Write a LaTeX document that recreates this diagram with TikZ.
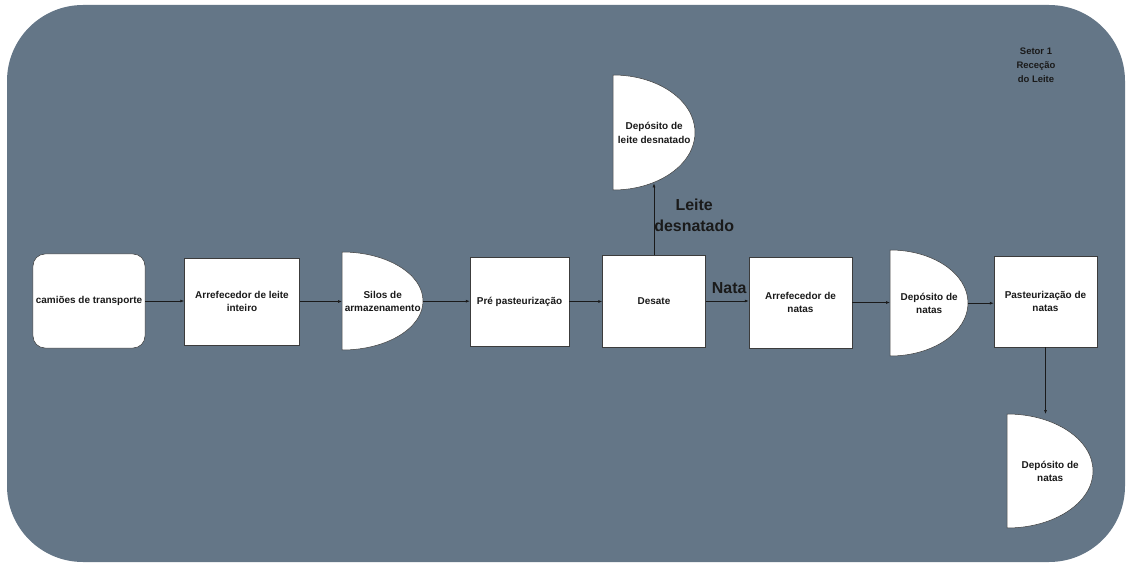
\documentclass[tikz,border=0pt]{standalone}
\usepackage{fontspec}
\setmainfont{Liberation Sans}
\usepackage{tikz}
\usetikzlibrary{arrows.meta, positioning}

\definecolor{setorbg}{HTML}{647687}
\definecolor{boxline}{HTML}{3C3C3C}
\definecolor{txt}{HTML}{1A1A1A}

\begin{document}
\begin{tikzpicture}[
    x=1bp, y=-1bp,
    box/.style={draw=boxline, line width=0.5bp, fill=white, text=txt, align=center,
        inner sep=1bp, font=\fontsize{10}{13.5}\selectfont\bfseries},
    dtext/.style={text=txt, align=center, inner sep=1bp, anchor=north west,
        font=\fontsize{10}{13.5}\selectfont\bfseries},
    dshape/.style={draw=boxline, line width=0.5bp, fill=white},
    flow/.style={-{Latex[length=4bp,width=3bp]}, line width=0.6bp, draw=txt},
    lbl/.style={text=txt, align=center, inner sep=0pt,
        font=\fontsize{16}{21}\selectfont\bfseries}
]

    % page and sector background
    \useasboundingbox (0,0) rectangle (1126,563);
    \fill[white] (0,0) rectangle (1126,563);
    \fill[setorbg, rounded corners=76bp] (7,5) rectangle (1125,562);

    \node[text=txt, align=center, inner sep=0pt,
          font=\fontsize{9.5}{14}\selectfont\bfseries] (setor) at (1036,65)
          {Setor 1\\Receção\\do Leite};

    % main line
    \node[box, rounded corners=12bp, minimum width=112bp, minimum height=94bp] (camioes)
        at (89,301) {camiões de transporte};
    \node[box, minimum width=115bp, minimum height=87bp] (arrleite)
        at (242,301.5) {Arrefecedor de leite\\inteiro};

    \fill[dshape] (342,252) arc[start angle=90, end angle=-90, x radius=81bp, y radius=49bp] -- cycle;
    \node[dtext, minimum width=81bp, minimum height=98bp] (silos)
        at (342,252) {Silos de\\armazenamento};

    \node[box, minimum width=99bp, minimum height=89bp] (prepast)
        at (519.5,301.5) {Pré pasteurização};
    \node[box, minimum width=103bp, minimum height=92bp] (desate)
        at (654,301) {Desate};
    \node[box, minimum width=103bp, minimum height=91bp] (arrnatas)
        at (800.5,302.5) {Arrefecedor de\\natas};

    \fill[dshape] (890,250) arc[start angle=90, end angle=-90, x radius=78bp, y radius=53bp] -- cycle;
    \node[dtext, minimum width=78bp, minimum height=106bp] (depnatas)
        at (890,250) {Depósito de\\natas};

    \node[box, minimum width=103bp, minimum height=91bp] (pastnatas)
        at (1045.5,301.5) {Pasteurização de\\natas};

    % storage of skimmed milk (top)
    \fill[dshape] (613,75) arc[start angle=90, end angle=-90, x radius=82bp, y radius=57.5bp] -- cycle;
    \node[dtext, minimum width=82bp, minimum height=115bp] (depleite)
        at (613,75) {Depósito de\\leite desnatado};

    % storage of cream (bottom)
    \fill[dshape] (1007,414) arc[start angle=90, end angle=-90, x radius=86bp, y radius=57bp] -- cycle;
    \node[dtext, minimum width=86bp, minimum height=114bp] (depnatas2)
        at (1007,414) {Depósito de\\natas};

    % connectors
    \draw[flow] (camioes.east) -- (camioes.east -| arrleite.west);
    \draw[flow] (arrleite.east) -- (arrleite.east -| silos.west);
    \draw[flow] (silos.east) -- (silos.east -| prepast.west);
    \draw[flow] (prepast.east) -- (prepast.east -| desate.west);
    \draw[flow] (desate.east) -- (desate.east -| arrnatas.west)
        node[lbl, midway, above=7bp, xshift=2bp] (nata) {Nata};
    \draw[flow] (arrnatas.east) -- (arrnatas.east -| depnatas.west);
    \draw[flow] (depnatas.east) -- (depnatas.east -| pastnatas.west);
    \draw[flow, shorten >=-7bp] (desate.north) -- (desate.north |- depleite.south)
        node[lbl, pos=0.62, anchor=west] (desnat) {Leite\\desnatado};
    \draw[flow] (pastnatas.south) -- (pastnatas.south |- depnatas2.north);

\end{tikzpicture}
\end{document}
